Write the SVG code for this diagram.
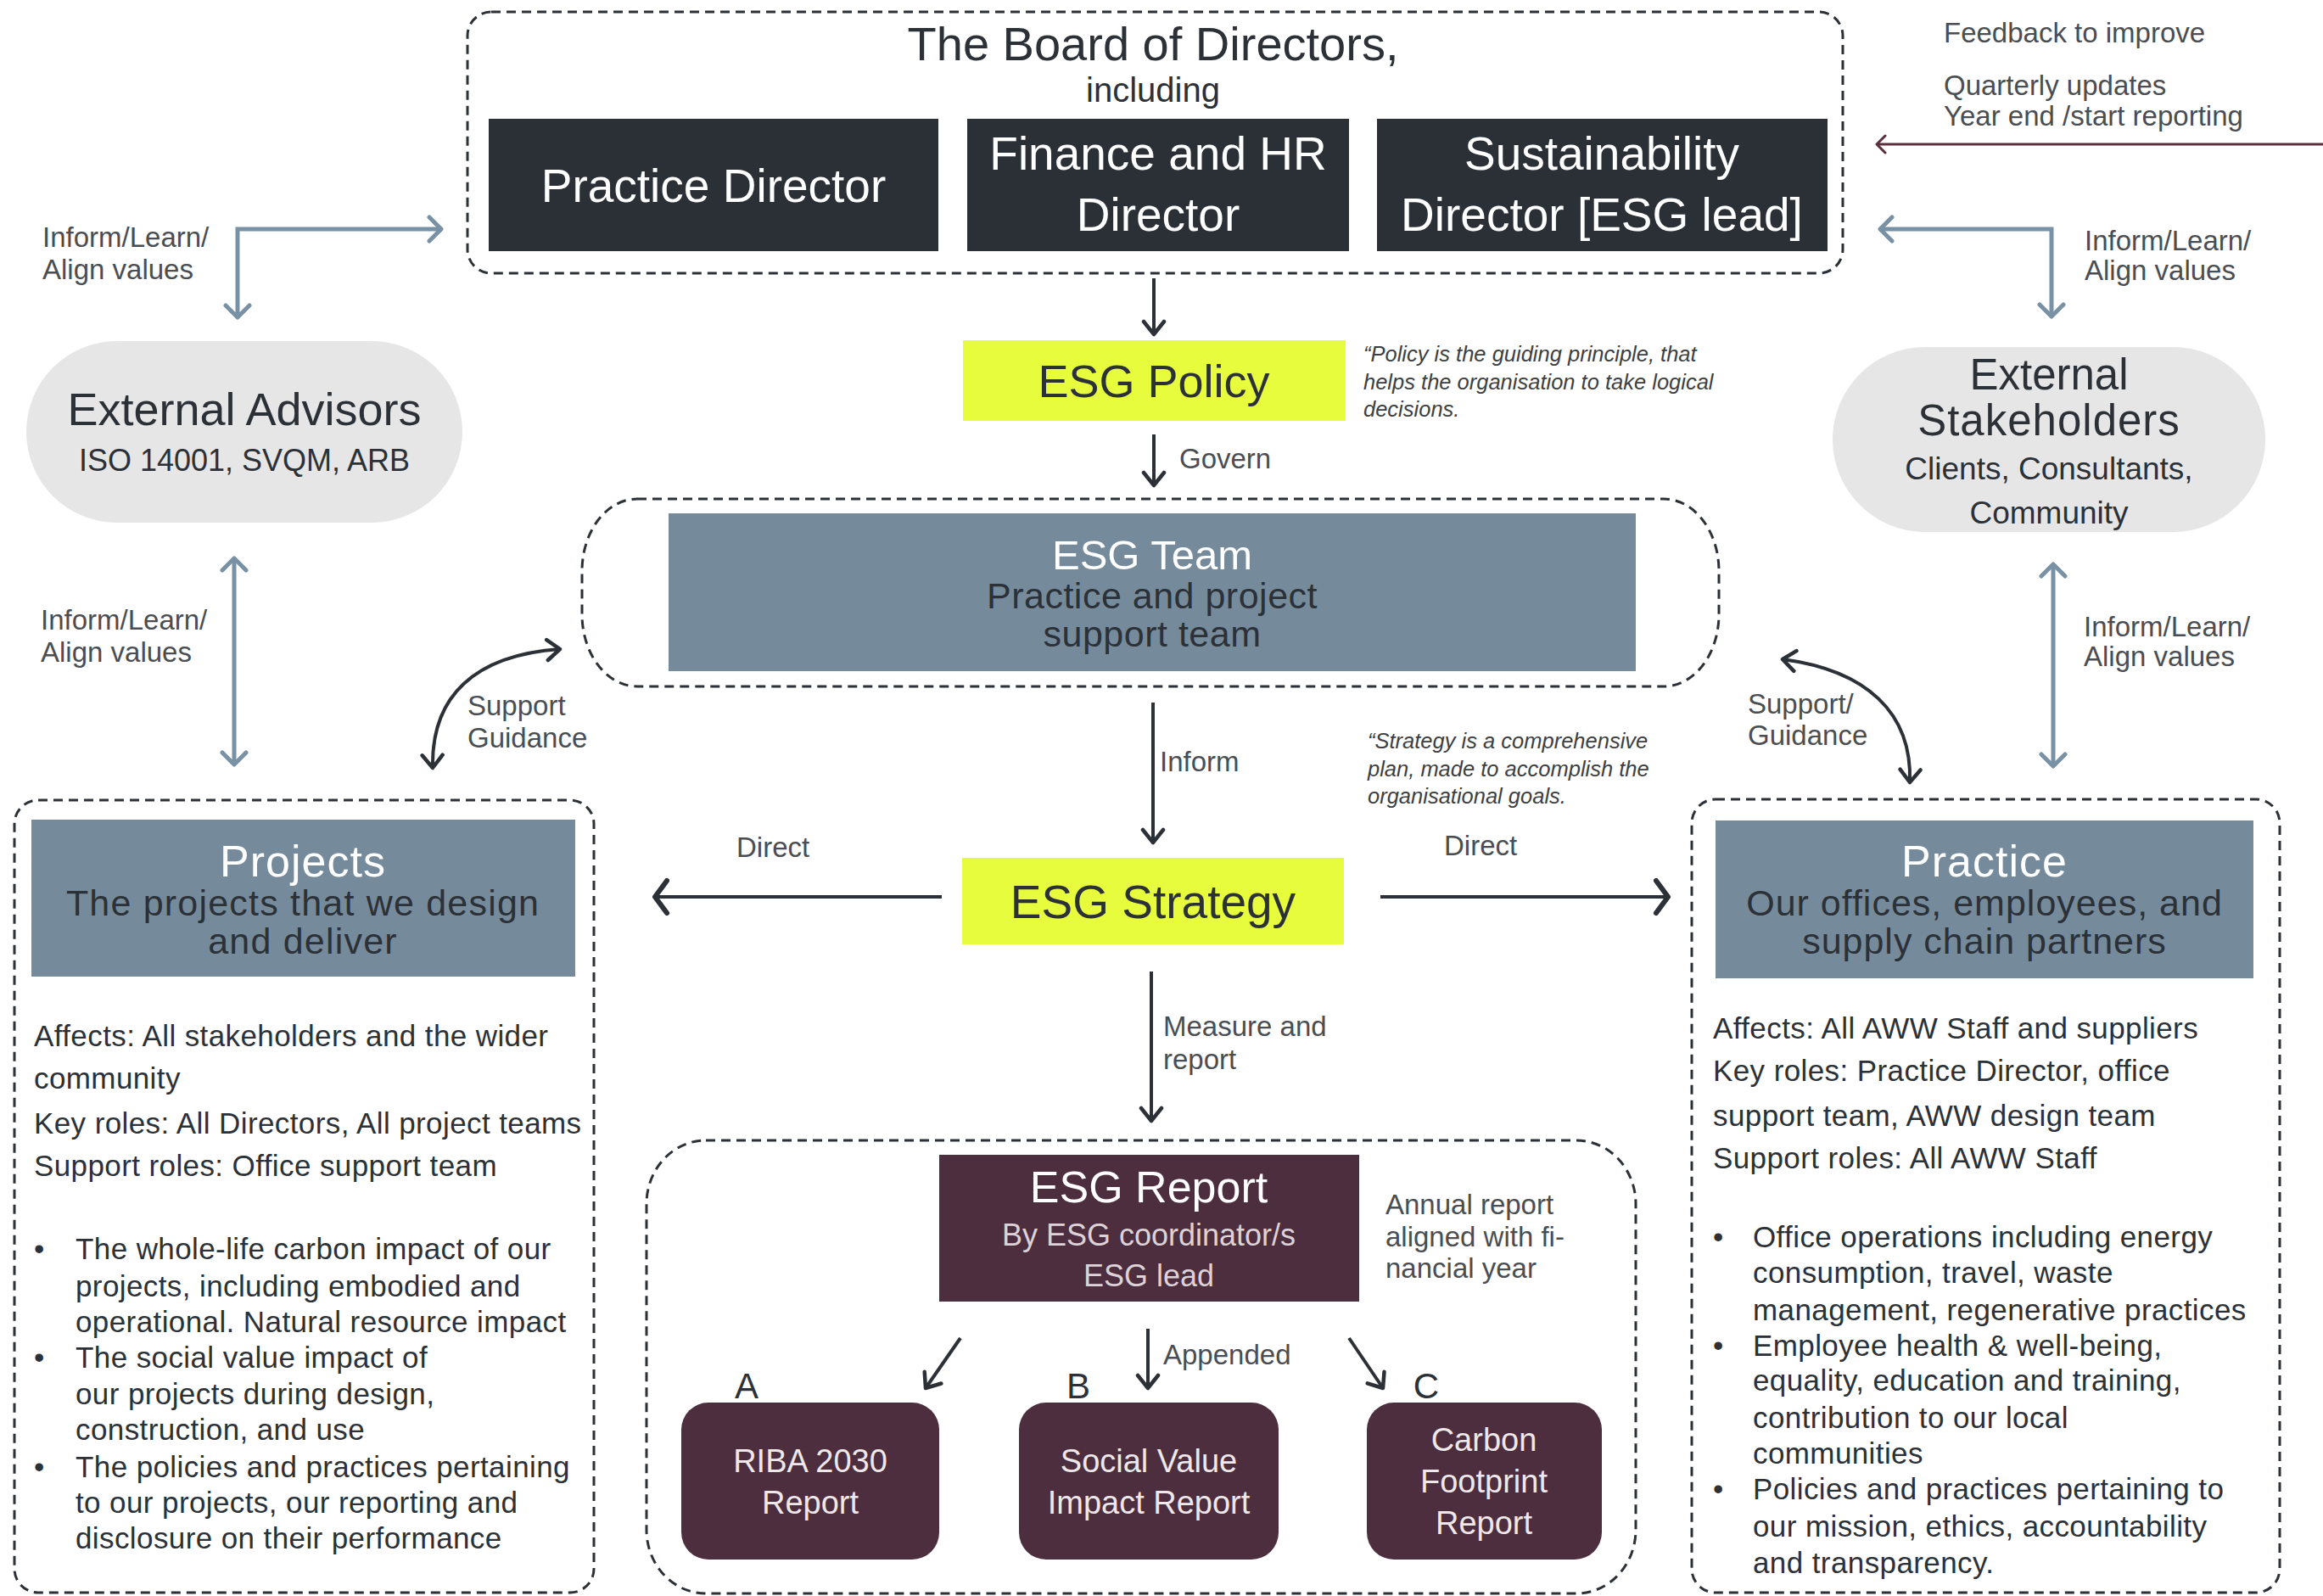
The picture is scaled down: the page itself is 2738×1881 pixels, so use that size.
<svg xmlns="http://www.w3.org/2000/svg" width="2738" height="1881" viewBox="0 0 2738 1881">
<defs>
<style>
text { font-family: 'Liberation Sans', Arial, sans-serif; }
.lbl { font-size: 33px; fill: #4a4e52; }
.q { font-size: 25.5px; font-style: italic; fill: #3d3f42; }
.dash { fill: none; stroke: #2b3137; stroke-width: 3; stroke-dasharray: 11 7; }
.dkbox { fill: #2a3036; }
.slate { fill: #758b9c; }
.yel { fill: #e8fc3e; }
.mar { fill: #4d2e3e; }
.pill { fill: #e6e6e6; }
.w { fill: #ffffff; }
.dk { fill: #2b3137; }
.mid { text-anchor: middle; }
.body { font-size: 35px; fill: #2b3137; letter-spacing: 0.4px; }
.cd { fill: none; stroke: #2b3137; stroke-width: 4; }
.cs { fill: none; stroke: #7891a4; stroke-width: 5; }
</style>
<marker id="ad" viewBox="0 0 22 30" refX="19" refY="15" markerWidth="22" markerHeight="30" markerUnits="userSpaceOnUse" orient="auto-start-reverse">
<path d="M4,3 L19,15 L4,27" fill="none" stroke="#2b3137" stroke-width="4.5" stroke-linejoin="round" stroke-linecap="round"/>
</marker>
<marker id="adb" viewBox="0 0 24 46" refX="20" refY="23" markerWidth="24" markerHeight="46" markerUnits="userSpaceOnUse" orient="auto-start-reverse">
<path d="M6,4 L20,23 L6,42" fill="none" stroke="#2b3137" stroke-width="6" stroke-linejoin="round" stroke-linecap="round"/>
</marker>
<marker id="as" viewBox="0 0 22 34" refX="18" refY="17" markerWidth="22" markerHeight="34" markerUnits="userSpaceOnUse" orient="auto-start-reverse">
<path d="M4,3 L18,17 L4,31" fill="none" stroke="#7891a4" stroke-width="5" stroke-linejoin="round" stroke-linecap="round"/>
</marker>
<marker id="am" viewBox="0 0 16 24" refX="13" refY="12" markerWidth="16" markerHeight="24" markerUnits="userSpaceOnUse" orient="auto-start-reverse">
<path d="M3,2 L13,12 L3,22" fill="none" stroke="#5b2f3e" stroke-width="3" stroke-linejoin="round" stroke-linecap="round"/>
</marker>
</defs>
<rect width="2738" height="1881" fill="#ffffff"/>

<g id="board">
<rect class="dash" x="551" y="14" width="1621" height="308" rx="28"/>
<text class="dk mid" x="1359" y="71" font-size="56">The Board of Directors,</text>
<text class="dk mid" x="1359" y="120" font-size="40">including</text>
</g>
<g id="practice-director">
<rect class="dkbox" x="576" y="140" width="530" height="156"/>
<text class="w mid" x="841" y="238" font-size="55">Practice Director</text>
</g>
<g id="finance-hr-director">
<rect class="dkbox" x="1140" y="140" width="450" height="156"/>
<text class="w mid" x="1365" y="200" font-size="55">Finance and HR</text>
<text class="w mid" x="1365" y="272" font-size="55">Director</text>
</g>
<g id="sustainability-director">
<rect class="dkbox" x="1623" y="140" width="531" height="156"/>
<text class="w mid" x="1888" y="200" font-size="55">Sustainability</text>
<text class="w mid" x="1888" y="272" font-size="55">Director [ESG lead]</text>
</g>

<g id="esg-policy">
<rect class="yel" x="1135" y="401" width="451" height="95"/>
<text class="dk mid" x="1360" y="468" font-size="54">ESG Policy</text>
</g>
<g id="policy-quote">
<text class="q" x="1607" y="426">“Policy is the guiding principle, that</text>
<text class="q" x="1607" y="459">helps the organisation to take logical</text>
<text class="q" x="1607" y="491">decisions.</text>
</g>

<g id="esg-team">
<rect class="dash" x="686" y="588" width="1340" height="221" rx="65" ry="85"/>
<rect class="slate" x="788" y="605" width="1140" height="186"/>
<text class="w mid" x="1358" y="671" font-size="49">ESG Team</text>
<text class="dk mid" x="1358" y="717" font-size="43" letter-spacing="0.5">Practice and project</text>
<text class="dk mid" x="1358" y="762" font-size="43" letter-spacing="0.5">support team</text>
</g>

<g id="external-advisors">
<rect class="pill" x="31" y="402" width="514" height="214" rx="107"/>
<text class="dk mid" x="288" y="501" font-size="54">External Advisors</text>
<text class="dk mid" x="288" y="555" font-size="36">ISO 14001, SVQM, ARB</text>
</g>

<g id="external-stakeholders">
<rect class="pill" x="2160" y="409" width="510" height="218" rx="109"/>
<text class="dk mid" x="2415" y="459" font-size="51">External</text>
<text class="dk mid" x="2415" y="513" font-size="51" letter-spacing="1">Stakeholders</text>
<text class="dk mid" x="2415" y="565" font-size="37">Clients, Consultants,</text>
<text class="dk mid" x="2415" y="617" font-size="37">Community</text>
</g>

<g id="esg-strategy">
<rect class="yel" x="1134" y="1011" width="450" height="102"/>
<text class="dk mid" x="1359" y="1082" font-size="55">ESG Strategy</text>
</g>
<g id="strategy-quote">
<text class="q" x="1612" y="882">“Strategy is a comprehensive</text>
<text class="q" x="1612" y="915">plan, made to accomplish the</text>
<text class="q" x="1612" y="947">organisational goals.</text>
</g>

<g id="projects">
<rect class="dash" x="17" y="943" width="683" height="934" rx="28"/>
<rect class="slate" x="37" y="966" width="641" height="185"/>
<text class="w mid" x="357" y="1033" font-size="52" letter-spacing="1">Projects</text>
<text class="dk mid" x="357" y="1079" font-size="43" letter-spacing="1.2">The projects that we design</text>
<text class="dk mid" x="357" y="1124" font-size="43" letter-spacing="1.2">and deliver</text>
<text class="body" x="40" y="1233">Affects: All stakeholders and the wider</text>
<text class="body" x="40" y="1283">community</text>
<text class="body" x="40" y="1336">Key roles: All Directors, All project teams</text>
<text class="body" x="40" y="1386">Support roles: Office support team</text>
<text class="body" x="40" y="1484">•</text>
<text class="body" x="89" y="1484">The whole-life carbon impact of our</text>
<text class="body" x="89" y="1528">projects, including embodied and</text>
<text class="body" x="89" y="1570">operational. Natural resource impact</text>
<text class="body" x="40" y="1612">•</text>
<text class="body" x="89" y="1612">The social value impact of</text>
<text class="body" x="89" y="1655">our projects during design,</text>
<text class="body" x="89" y="1697">construction, and use</text>
<text class="body" x="40" y="1741">•</text>
<text class="body" x="89" y="1741">The policies and practices pertaining</text>
<text class="body" x="89" y="1783">to our projects, our reporting and</text>
<text class="body" x="89" y="1825">disclosure on their performance</text>
</g>

<g id="practice">
<rect class="dash" x="1994" y="942" width="693" height="935" rx="28"/>
<rect class="slate" x="2022" y="967" width="634" height="186"/>
<text class="w mid" x="2339" y="1033" font-size="52" letter-spacing="1">Practice</text>
<text class="dk mid" x="2339" y="1079" font-size="43" letter-spacing="1">Our offices, employees, and</text>
<text class="dk mid" x="2339" y="1124" font-size="43" letter-spacing="1">supply chain partners</text>
<text class="body" x="2019" y="1224">Affects: All AWW Staff and suppliers</text>
<text class="body" x="2019" y="1274">Key roles: Practice Director, office</text>
<text class="body" x="2019" y="1327">support team, AWW design team</text>
<text class="body" x="2019" y="1377">Support roles: All AWW Staff</text>
<text class="body" x="2019" y="1470">•</text>
<text class="body" x="2066" y="1470">Office operations including energy</text>
<text class="body" x="2066" y="1512">consumption, travel, waste</text>
<text class="body" x="2066" y="1556">management, regenerative practices</text>
<text class="body" x="2019" y="1598">•</text>
<text class="body" x="2066" y="1598">Employee health &amp; well-being,</text>
<text class="body" x="2066" y="1639">equality, education and training,</text>
<text class="body" x="2066" y="1683">contribution to our local</text>
<text class="body" x="2066" y="1725">communities</text>
<text class="body" x="2019" y="1767">•</text>
<text class="body" x="2066" y="1767">Policies and practices pertaining to</text>
<text class="body" x="2066" y="1811">our mission, ethics, accountability</text>
<text class="body" x="2066" y="1854">and transparency.</text>
</g>

<g id="report-group">
<rect class="dash" x="762" y="1344" width="1166" height="534" rx="70" ry="75"/>
</g>
<g id="esg-report">
<rect class="mar" x="1107" y="1361" width="495" height="173"/>
<text class="w mid" x="1354" y="1417" font-size="52">ESG Report</text>
<text class="mid" x="1354" y="1468" font-size="36" fill="#dcd2d7">By ESG coordinator/s</text>
<text class="mid" x="1354" y="1516" font-size="36" fill="#dcd2d7">ESG lead</text>
</g>
<g id="report-note">
<text class="lbl" x="1633" y="1431" font-size="32">Annual report</text>
<text class="lbl" x="1633" y="1469" font-size="32">aligned with fi-</text>
<text class="lbl" x="1633" y="1506" font-size="32">nancial year</text>
</g>
<g id="riba-report">
<text class="dk mid" x="880" y="1648" font-size="42">A</text>
<rect class="mar" x="803" y="1653" width="304" height="185" rx="32"/>
<text class="mid" x="955" y="1735" font-size="38" fill="#efe8eb">RIBA 2030</text>
<text class="mid" x="955" y="1784" font-size="38" fill="#efe8eb">Report</text>
</g>
<g id="social-value-report">
<text class="dk mid" x="1271" y="1648" font-size="42">B</text>
<rect class="mar" x="1201" y="1653" width="306" height="185" rx="32"/>
<text class="mid" x="1354" y="1735" font-size="38" fill="#efe8eb">Social Value</text>
<text class="mid" x="1354" y="1784" font-size="38" fill="#efe8eb">Impact Report</text>
</g>
<g id="carbon-report">
<text class="dk mid" x="1681" y="1648" font-size="42">C</text>
<rect class="mar" x="1611" y="1653" width="277" height="185" rx="32"/>
<text class="mid" x="1749" y="1710" font-size="38" fill="#efe8eb">Carbon</text>
<text class="mid" x="1749" y="1759" font-size="38" fill="#efe8eb">Footprint</text>
<text class="mid" x="1749" y="1808" font-size="38" fill="#efe8eb">Report</text>
</g>

<g id="connectors">
<line class="cd" x1="1360" y1="328" x2="1360" y2="394" marker-end="url(#ad)"/>
<line class="cd" x1="1360" y1="512" x2="1360" y2="572" marker-end="url(#ad)"/>
<line class="cd" x1="1359" y1="828" x2="1359" y2="993" marker-end="url(#ad)"/>
<line class="cd" x1="1110" y1="1057" x2="772" y2="1057" stroke-width="7" marker-end="url(#adb)"/>
<line class="cd" x1="1627" y1="1057" x2="1966" y2="1057" stroke-width="7" marker-end="url(#adb)"/>
<line class="cd" x1="1357" y1="1145" x2="1357" y2="1321" marker-end="url(#ad)"/>
<line class="cd" x1="1132" y1="1577" x2="1091" y2="1636" marker-end="url(#ad)"/>
<line class="cd" x1="1353" y1="1566" x2="1353" y2="1636" marker-end="url(#ad)"/>
<line class="cd" x1="1590" y1="1577" x2="1630" y2="1636" marker-end="url(#ad)"/>
<path class="cs" d="M520,270 H280 V374" marker-start="url(#as)" marker-end="url(#as)"/>
<line class="cs" x1="276" y1="658" x2="276" y2="901" marker-start="url(#as)" marker-end="url(#as)"/>
<path class="cs" d="M2216,270 H2418 V373" marker-start="url(#as)" marker-end="url(#as)"/>
<line class="cs" x1="2420" y1="665" x2="2420" y2="903" marker-start="url(#as)" marker-end="url(#as)"/>
<path class="cd" stroke-width="5" d="M510,905 C508,820 560,772 660,765" marker-start="url(#ad)" marker-end="url(#ad)"/>
<path class="cd" stroke-width="5" d="M2251,922 C2254,840 2200,790 2101,777" marker-start="url(#ad)" marker-end="url(#ad)"/>
<line x1="2738" y1="170" x2="2212" y2="170" stroke="#5b2f3e" stroke-width="3" marker-end="url(#am)"/>
</g>

<g id="labels">
<text class="lbl" x="2291" y="50" font-size="32">Feedback to improve</text>
<text class="lbl" x="2291" y="112" font-size="32">Quarterly updates</text>
<text class="lbl" x="2291" y="148" font-size="32">Year end /start reporting</text>
<text class="lbl" x="50" y="291">Inform/Learn/</text>
<text class="lbl" x="50" y="329">Align values</text>
<text class="lbl" x="2457" y="295">Inform/Learn/</text>
<text class="lbl" x="2457" y="330">Align values</text>
<text class="lbl" x="48" y="742">Inform/Learn/</text>
<text class="lbl" x="48" y="780">Align values</text>
<text class="lbl" x="2456" y="750">Inform/Learn/</text>
<text class="lbl" x="2456" y="785">Align values</text>
<text class="lbl" x="551" y="843">Support</text>
<text class="lbl" x="551" y="881">Guidance</text>
<text class="lbl" x="2060" y="841">Support/</text>
<text class="lbl" x="2060" y="878">Guidance</text>
<text class="lbl" x="1390" y="552" font-size="31">Govern</text>
<text class="lbl" x="1367" y="909" font-size="31">Inform</text>
<text class="lbl" x="868" y="1010" font-size="32">Direct</text>
<text class="lbl" x="1702" y="1008" font-size="32">Direct</text>
<text class="lbl" x="1371" y="1221" font-size="31">Measure and</text>
<text class="lbl" x="1371" y="1260" font-size="31">report</text>
<text class="lbl" x="1371" y="1608" font-size="31">Appended</text>
</g>
</svg>
